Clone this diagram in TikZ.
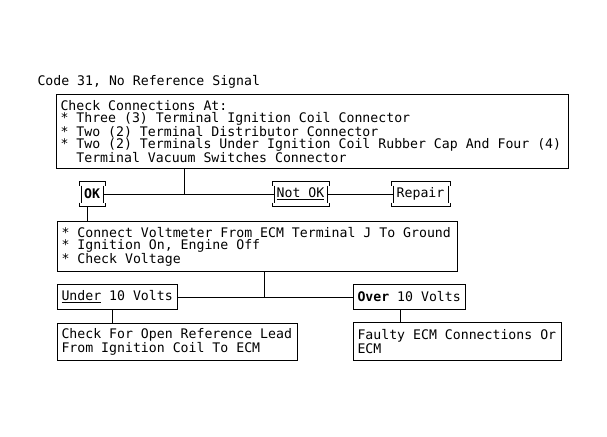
\documentclass[tikz,border=0pt]{standalone}
\usepackage{fontspec}
\newfontfamily\diagfont{DejaVu Sans Mono}

\begin{document}
\begin{tikzpicture}[x=1pt, y=-1pt, line width=1pt, font=\diagfont\fontsize{13.2}{12.3}\selectfont,
    box/.style = {draw, anchor=north west, align=flush left, inner xsep=4pt, inner ysep=0pt,
        execute at begin node={\spaceskip=0pt\xspaceskip=0pt\relax}},
    tag/.style = {inner sep=0pt, outer sep=0pt, minimum height=25pt}]
    \useasboundingbox (0,0) rectangle (607,436);

    \node[anchor=base west, inner sep=0pt] (title) at (37,85) {Code 31, No Reference Signal};
    \node[box, text width=504pt, minimum height=74pt] (check) at (56,94) {Check Connections At:\\{}* Three (3) Terminal Ignition Coil Connector\\{}* Two (2) Terminal Distributor Connector\\{}* Two (2) Terminals Under Ignition Coil Rubber Cap And Four (4)\\\ \ Terminal Vacuum Switches Connector};
    \node[tag, minimum width=22pt] (ok) at (92,194) {\bfseries OK};
    \node[tag, minimum width=53pt] (notok) at (300.5,194) {\underline{Not OK}};
    \node[tag, minimum width=55pt] (repair) at (420.5,194) {Repair};
    \node[box, text width=392pt, minimum height=50pt] (volt) at (57,221) {* Connect Voltmeter From ECM Terminal J To Ground\\{}* Ignition On, Engine Off\\{}* Check Voltage};
    \node[box, text width=112pt, minimum height=25pt] (under) at (57,284) {\underline{Under} 10 Volts};
    \node[box, text width=104pt, minimum height=25pt] (over) at (353,284) {\textbf{Over} 10 Volts};
    \node[box, text width=232pt, minimum height=37pt] (lead) at (57,323) {Check For Open Reference Lead\\From Ignition Coil To ECM};
    \node[box, text width=200pt, minimum height=38pt] (faulty) at (353,322) {Faulty ECM Connections Or\\ECM};

    \foreach \n in {ok, notok, repair} {
        \draw ([shift={(-2pt,-4pt)}]\n.north west) -- ([xshift=-2pt]\n.north west) -- ([xshift=2pt]\n.north east) -- ([shift={(2pt,-4pt)}]\n.north east);
        \draw ([shift={(-2pt,4pt)}]\n.south west) -- ([xshift=-2pt]\n.south west) -- ([xshift=2pt]\n.south east) -- ([shift={(2pt,4pt)}]\n.south east);
        \draw ([yshift=-4pt]\n.north west) -- ([yshift=4pt]\n.south west);
        \draw ([yshift=-4pt]\n.north east) -- ([yshift=4pt]\n.south east);
    }

    \coordinate (j1) at (184,194);
    \coordinate (j2) at (264,296.5);
    \draw (check.south -| j1) -- (j1);
    \draw (ok) -- (notok);
    \draw (notok) -- (repair);
    \draw ([xshift=-5pt]ok.south) -- ([xshift=-5pt]ok.south |- volt.north);
    \draw (volt.south -| j2) -- (j2);
    \draw (under) -- (over);
    \draw ([xshift=-5pt]under.south) -- ([xshift=-5pt]under.south |- lead.north);
    \draw ([xshift=-9pt]over.south) -- ([xshift=-9pt]over.south |- faulty.north);
\end{tikzpicture}
\end{document}
